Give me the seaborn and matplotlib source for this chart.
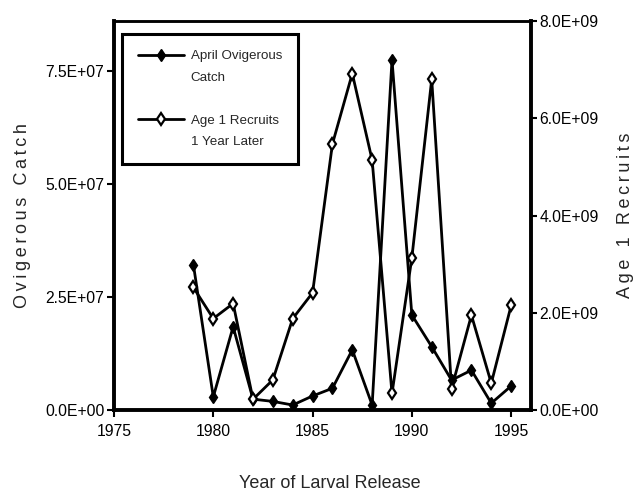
import matplotlib
matplotlib.use("Agg")
import matplotlib.pyplot as plt
import seaborn as sns
import pandas as pd
from matplotlib.lines import Line2D

years = [1979, 1980, 1981, 1982, 1983, 1984, 1985, 1986, 1987, 1988,
         1989, 1990, 1991, 1992, 1993, 1994, 1995]
ovigerous_catch = [3.21e7, 2.9e6, 1.84e7, 2.4e6, 1.9e6, 1.1e6, 3.1e6, 4.8e6,
                   1.33e7, 1.1e6, 7.74e7, 2.1e7, 1.4e7, 6.6e6, 8.8e6, 1.5e6, 5.3e6]
age1_recruits = [2.52e9, 1.88e9, 2.19e9, 2.2e8, 6.2e8, 1.88e9, 2.41e9, 5.47e9,
                 6.92e9, 5.14e9, 3.4e8, 3.13e9, 6.8e9, 4.4e8, 1.95e9, 5.5e8, 2.15e9]
left_ticks = [0, 2.5e7, 5.0e7, 7.5e7]
left_tick_labels = ["0.0E+00", "2.5E+07", "5.0E+07", "7.5E+07"]
right_ticks = [0, 2e9, 4e9, 6e9, 8e9]
right_tick_labels = ["0.0E+00", "2.0E+09", "4.0E+09", "6.0E+09", "8.0E+09"]
x_ticks = [1975, 1980, 1985, 1990, 1995]
legend_lines = ["April Ovigerous", "Catch", "", "Age 1 Recruits", "1 Year Later"]

sns.set_style("white")
REG = ["Liberation Sans", "DejaVu Sans"]
plt.rcParams['font.family'] = REG

df = pd.DataFrame({"year": years, "catch": ovigerous_catch, "recruits": age1_recruits})

W, H = 635, 493
L, R, T, B = 114, 531, 21, 410
fig = plt.figure(figsize=(W / 100, H / 100), dpi=100)
ax = fig.add_axes([L / W, 1 - B / H, (R - L) / W, (B - T) / H])
ax2 = ax.twinx()

sns.lineplot(data=df, x="year", y="catch", ax=ax, color="black", linewidth=2.0,
             marker="d", markersize=6.5, markerfacecolor="black",
             markeredgecolor="black", markeredgewidth=1.0)
sns.lineplot(data=df, x="year", y="recruits", ax=ax2, color="black", linewidth=2.0,
             marker="d", markersize=6.5, markerfacecolor="white",
             markeredgecolor="black", markeredgewidth=1.6)

ax.set_xlim(1975, 1996)
ax.set_ylim(0, 8.6e7)
ax2.set_ylim(0, 8.0e9)
ax.set_xticks(x_ticks)
ax.set_xticklabels([str(t) for t in x_ticks])
ax.set_yticks(left_ticks)
ax.set_yticklabels(left_tick_labels)
ax2.set_yticks(right_ticks)
ax2.set_yticklabels(right_tick_labels)

tick_fs = 11.3
for a in (ax, ax2):
    a.tick_params(direction="out", length=5, width=1.5, labelsize=tick_fs, pad=2,
                  colors="black")
    for s in a.spines.values():
        s.set_color("black")
ax.spines["left"].set_linewidth(2.8)
ax.spines["bottom"].set_linewidth(2.8)
ax.spines["top"].set_linewidth(1.8)
ax.spines["right"].set_visible(False)
ax2.spines["right"].set_linewidth(2.8)
ax2.spines["top"].set_linewidth(1.8)
ax2.spines["left"].set_visible(False)
ax2.spines["bottom"].set_visible(False)
ax.tick_params(axis="x", bottom=True, pad=5)
ax.tick_params(axis="y", left=True)
ax2.tick_params(axis="y", right=True, length=4, pad=2)

sp = "\u2009"
ax.set_xlabel("Year of Larval Release", fontsize=13)
ax.xaxis.set_label_coords((330 - L) / (R - L), (B - 475) / (B - T))
ax.set_ylabel(sp.join("Ovigerous Catch"), fontsize=13)
ax.yaxis.set_label_coords((31 - L) / (R - L), 0.5)
ax2.set_ylabel(sp.join("Age 1 Recruits"), fontsize=13)
ax2.yaxis.set_label_coords((617 - L) / (R - L), 0.5)

blank = Line2D([], [], linestyle="none")
handles = [
    Line2D([], [], color="black", linewidth=2.0, marker="d", markersize=6.5,
           markerfacecolor="black", markeredgecolor="black"),
    blank, blank,
    Line2D([], [], color="black", linewidth=2.0, marker="d", markersize=6.5,
           markerfacecolor="white", markeredgecolor="black", markeredgewidth=1.6),
    blank,
]
leg_fs = 9.6
leg = ax2.legend(handles, legend_lines,
                 loc="upper left",
                 bbox_to_anchor=((122 - L) / (R - L), (B - 34) / (B - T)),
                 fontsize=leg_fs, frameon=True, fancybox=False,
                 handlelength=46 / (leg_fs * 100 / 72), labelspacing=0.68,
                 borderpad=1.2, handletextpad=0.5, borderaxespad=0)
leg.get_frame().set_edgecolor("black")
leg.get_frame().set_linewidth(2.2)
leg.get_frame().set_alpha(1)

fig.savefig("out.png", dpi=100)
